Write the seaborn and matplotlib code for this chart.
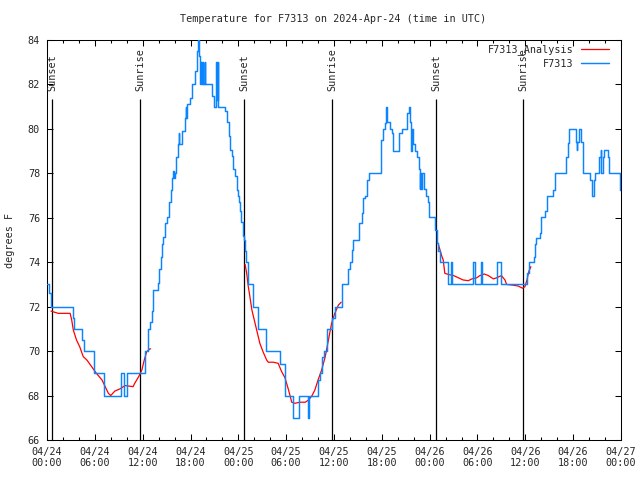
import pandas as pd
import seaborn as sns
import matplotlib.pyplot as plt
from matplotlib.ticker import MultipleLocator

# hours since 04/24 00:00 UTC
obs_hours = [0.0, 0.2, 0.45, 3.2, 3.35, 4.45, 4.65, 5.85, 7.15, 9.25, 9.6, 10.05,
             12.25, 12.7, 12.92, 13.13, 13.25, 13.35, 13.97, 14.09, 14.26, 14.43, 14.59,
             14.84, 15.09, 15.34, 15.51, 15.72, 15.8, 15.88, 16.01, 16.18, 16.47, 16.55,
             16.62, 16.89, 17.31, 17.4, 17.48, 17.6, 17.94, 18.15, 18.56, 18.78, 18.98,
             19.06, 19.2, 19.3, 19.38, 19.55, 19.63, 19.8, 19.88, 20.75, 20.95,
             21.25, 21.32, 21.45, 21.5, 22.33, 22.62, 22.79, 22.95, 23.17, 23.29, 23.58,
             23.79, 24.0, 24.12, 24.21, 24.34, 24.54, 24.7, 24.8, 24.9, 25.17, 25.85,
             26.5, 27.5, 29.27, 29.8, 30.85, 31.6, 32.75, 32.85, 33.95, 34.04, 34.25,
             34.54, 34.79, 35.08, 35.71, 36.13, 36.95, 37.7, 38.0, 38.22, 38.43, 39.18,
             39.51, 39.68, 39.89, 40.1, 40.43, 41.95, 42.19, 42.4, 42.55, 42.65, 43.03,
             43.24, 43.44, 44.2, 44.49, 45.2, 45.4, 45.5, 45.6, 45.75, 45.87, 46.2,
             46.45, 46.65, 46.75, 46.85, 46.95, 47.05, 47.3, 47.54, 47.83, 47.96, 48.67,
             48.88, 49.1, 49.3, 50.3, 50.65, 50.75, 53.4, 53.7, 54.42, 54.52, 56.5,
             56.95, 60.15, 60.4, 61.05, 61.2, 61.4, 61.84, 61.97, 62.47, 62.68, 63.51,
             63.72, 65.1, 65.31, 65.52, 66.3, 66.44, 66.5, 66.75, 66.98, 67.19, 67.27,
             68.1, 68.3, 68.6, 68.7, 69.3, 69.45, 69.55, 69.7, 69.9, 70.35, 70.55,
             71.85, 72.0]
obs_temps = [73.0, 72.6, 72.0, 71.5, 71.0, 70.5, 70.0, 69.0, 68.0, 69.0, 68.0, 69.0,
             70.0, 71.0, 71.3, 71.8, 72.2, 72.75, 73.05, 73.7, 74.25, 74.8, 75.15,
             75.75, 76.05, 76.7, 77.25, 77.8, 78.1, 77.8, 78.0, 78.75, 79.3, 79.8,
             79.3, 79.9, 80.5, 81.0, 80.5, 81.1, 81.4, 82.0, 82.6, 83.5, 84.0,
             83.3, 82.0, 83.0, 82.0, 83.0, 82.0, 83.0, 82.0, 81.5, 81.0,
             83.0, 81.3, 83.0, 81.0, 80.8, 80.3, 79.7, 79.05, 78.8, 78.2, 77.9,
             77.25, 77.0, 76.7, 76.3, 75.8, 75.2, 75.0, 74.5, 74.0, 73.0, 72.0,
             71.0, 70.0, 69.4, 68.0, 67.0, 68.0, 67.0, 68.0, 68.25, 68.7, 69.0,
             69.75, 70.0, 71.0, 71.5, 72.0, 73.0, 73.7, 74.0, 74.55, 75.0, 75.75,
             76.2, 76.9, 77.0, 77.7, 78.0, 79.5, 80.0, 80.25, 81.0, 80.3, 80.0,
             79.8, 79.0, 79.8, 80.0, 80.7, 81.0, 80.3, 79.0, 80.0, 79.3, 79.0,
             78.75, 78.2, 77.3, 78.0, 77.3, 78.0, 77.3, 77.0, 76.7, 76.05, 75.45,
             74.85, 74.5, 74.0, 73.0, 74.0, 73.0, 74.0, 73.0, 74.0, 73.0, 74.0,
             73.0, 73.5, 74.0, 74.25, 74.8, 75.1, 75.3, 76.05, 76.3, 77.0, 77.25,
             78.0, 78.75, 79.35, 80.0, 79.4, 79.05, 79.4, 80.0, 79.4, 78.75, 78.0,
             77.7, 77.0, 77.7, 78.0, 78.75, 79.05, 78.0, 78.75, 79.05, 78.75, 78.0,
             77.25, 77.25]

# analysis curve, three windows around sunset/sunrise
ana1_hours = [0.5, 1.4, 2.9, 3.1, 3.3, 3.7, 4.1, 4.55, 5.0, 5.6, 6.2, 6.9, 7.3, 7.7,
              8.0, 8.5, 9.15, 9.8, 10.8, 11.0, 11.5, 11.9, 12.2, 12.5, 12.9, 13.0]
ana1_temps = [71.8, 71.7, 71.7, 71.4, 70.95, 70.5, 70.2, 69.75, 69.6, 69.3, 69.0, 68.7,
              68.4, 68.1, 68.0, 68.2, 68.3, 68.45, 68.4, 68.55, 68.85, 69.15, 69.6,
              69.97, 70.1, 70.1]
ana2_hours = [24.85, 25.05, 25.25, 25.45, 25.7, 25.9, 26.3, 26.7, 27.1, 27.55, 27.75,
              28.4, 29.0, 29.4, 29.85, 30.3, 30.7, 31.1, 31.7, 32.4, 32.8, 33.2, 33.6,
              34.0, 34.45, 34.9, 35.3, 35.7, 36.1, 36.55, 36.9]
ana2_temps = [73.9, 73.5, 72.9, 72.45, 71.85, 71.55, 70.95, 70.35, 69.97, 69.6, 69.5,
              69.5, 69.45, 69.1, 68.8, 68.25, 67.7, 67.65, 67.7, 67.7, 67.8, 67.97,
              68.25, 68.7, 69.15, 69.75, 70.5, 71.25, 71.7, 72.07, 72.2]
ana3_hours = [49.1, 49.5, 49.7, 49.9, 50.35, 51.0, 51.6, 52.2, 52.85, 53.3, 53.9, 54.3,
              54.85, 55.35, 56.0, 56.4, 57.0, 57.45, 57.65, 58.4, 59.1, 59.65, 59.95,
              60.2, 60.45, 60.7]
ana3_temps = [74.8, 74.3, 74.1, 73.5, 73.45, 73.4, 73.3, 73.2, 73.17, 73.25, 73.3, 73.4,
              73.47, 73.4, 73.25, 73.3, 73.4, 73.2, 73.0, 72.97, 72.93, 72.83, 72.9,
              73.2, 73.6, 73.8]

sun_hours = [0.63, 11.67, 24.75, 35.8, 48.84, 59.75]
sun_labels = ["Sunset", "Sunrise", "Sunset", "Sunrise", "Sunset", "Sunrise"]

xtick_hours = [0, 6, 12, 18, 24, 30, 36, 42, 48, 54, 60, 66, 72]
xtick_labels = ["04/24\n00:00", "04/24\n06:00", "04/24\n12:00", "04/24\n18:00",
                "04/25\n00:00", "04/25\n06:00", "04/25\n12:00", "04/25\n18:00",
                "04/26\n00:00", "04/26\n06:00", "04/26\n12:00", "04/26\n18:00",
                "04/27\n00:00"]

obs = pd.DataFrame({"hour": obs_hours, "temp": obs_temps})
ana = pd.concat([
    pd.DataFrame({"hour": ana1_hours, "temp": ana1_temps, "seg": 1}),
    pd.DataFrame({"hour": ana2_hours, "temp": ana2_temps, "seg": 2}),
    pd.DataFrame({"hour": ana3_hours, "temp": ana3_temps, "seg": 3}),
])

sns.set_style("ticks")
plt.rcParams["font.family"] = ["DejaVu Sans Mono"]
plt.rcParams["font.size"] = 7.3

fig = plt.figure(figsize=(6.4, 4.8), dpi=100)
ax = fig.add_axes([47 / 640, 40 / 480, 574 / 640, 400 / 480])

sns.lineplot(data=ana, x="hour", y="temp", units="seg", estimator=None,
             color="#ff0000", lw=0.9, ax=ax, zorder=3)
sns.lineplot(data=obs, x="hour", y="temp", estimator=None, drawstyle="steps-post",
             color="#0a84ff", lw=1.05, ax=ax, zorder=4)

ax.vlines(sun_hours, 66, 81.35, color="black", lw=0.9, zorder=2)
for h, lab in zip(sun_hours, sun_labels):
    ax.text(h, 81.7, lab, rotation=90, ha="center", va="bottom", fontsize=7.3)

ax.set_xlim(0, 72)
ax.set_ylim(66, 84)
ax.set_xticks(xtick_hours)
ax.set_xticklabels(xtick_labels, linespacing=1.1)
ax.xaxis.set_minor_locator(MultipleLocator(2))
ax.yaxis.set_major_locator(MultipleLocator(2))
ax.tick_params(which="both", direction="in", top=True, right=True, width=0.75,
               labelsize=7.3, color="black")
ax.tick_params(which="major", length=4)
ax.tick_params(which="minor", length=2.5)
ax.tick_params(axis="x", pad=5)
ax.tick_params(axis="y", pad=5)
for s in ax.spines.values():
    s.set_linewidth(0.75)
    s.set_color("black")
ax.set_xlabel("")
ax.set_ylabel("")

red_line = ax.lines[0]
blue_line = ax.lines[-1]
ax.legend([red_line, blue_line], ["F7313_Analysis", "F7313"],
          loc="upper right", bbox_to_anchor=(1 - 8 / 574, 1),
          frameon=False, markerfirst=False, handlelength=2.8, handletextpad=0.65,
          labelspacing=0.35, borderaxespad=0.2, borderpad=0.2, fontsize=7.3)

fig.text(0.521, 1 - 19 / 480, "Temperature for F7313 on 2024-Apr-24 (time in UTC)",
         ha="center", va="center", fontsize=7.3)
fig.text(10 / 640, 0.5, "degrees F", rotation=90, ha="center", va="center", fontsize=7.3)

fig.savefig("out.png", dpi=100)
